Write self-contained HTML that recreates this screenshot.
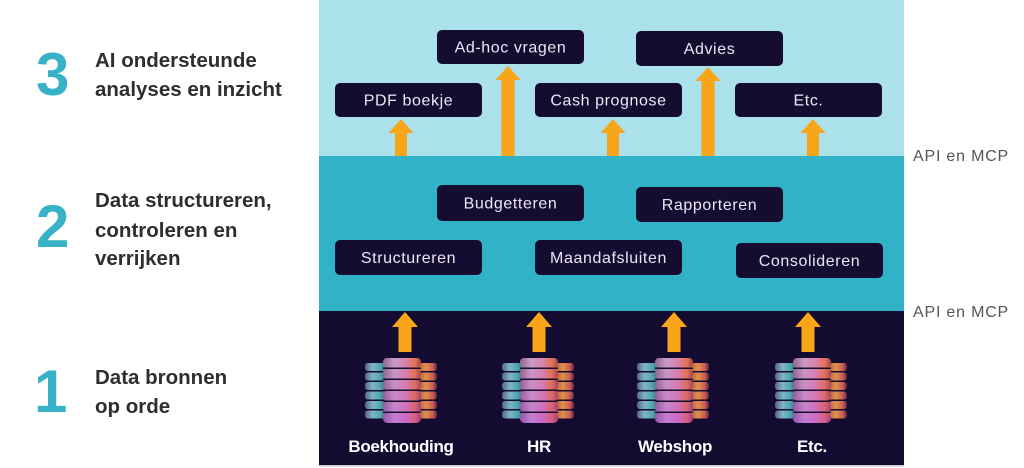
<!DOCTYPE html>
<html>
<head>
<meta charset="utf-8">
<style>
html,body{margin:0;padding:0;background:#fff;}
svg{display:block;}
</style>
</head>
<body>
<svg width="1024" height="468" viewBox="0 0 1024 468" xmlns="http://www.w3.org/2000/svg">
<defs>
  <linearGradient id="gl" x1="0" y1="0" x2="1" y2="0">
    <stop offset="0" stop-color="#5a6488"/>
    <stop offset="0.35" stop-color="#7fb4c4"/>
    <stop offset="0.7" stop-color="#4aa8b0"/>
    <stop offset="1" stop-color="#2f5a76"/>
  </linearGradient>
  <linearGradient id="gm" x1="0" y1="0" x2="1" y2="0">
    <stop offset="0" stop-color="#7464a6"/>
    <stop offset="0.3" stop-color="#c2a8e6"/>
    <stop offset="0.6" stop-color="#d688cc"/>
    <stop offset="0.85" stop-color="#e2744c"/>
    <stop offset="1" stop-color="#8a3a5e"/>
  </linearGradient>
  <linearGradient id="gr" x1="0" y1="0" x2="1" y2="0">
    <stop offset="0" stop-color="#a85440"/>
    <stop offset="0.45" stop-color="#e2904a"/>
    <stop offset="0.8" stop-color="#c85a56"/>
    <stop offset="1" stop-color="#5e2a3e"/>
  </linearGradient>
  <linearGradient id="gv" x1="0" y1="0" x2="0" y2="1">
    <stop offset="0" stop-color="#e87040" stop-opacity="0.2"/>
    <stop offset="1" stop-color="#c040c0" stop-opacity="0.45"/>
  </linearGradient>
  <g id="srv">
    <g fill="url(#gl)">
      <rect x="0" y="5" width="22" height="8" rx="3"/>
      <rect x="0" y="14.5" width="22" height="8" rx="3"/>
      <rect x="0" y="24" width="22" height="8" rx="3"/>
      <rect x="0" y="33.5" width="22" height="8" rx="3"/>
      <rect x="0" y="43" width="22" height="8" rx="3"/>
      <rect x="0" y="52.5" width="22" height="8" rx="3"/>
    </g>
    <g fill="url(#gr)">
      <rect x="52" y="5" width="20" height="8" rx="3"/>
      <rect x="52" y="14.5" width="20" height="8" rx="3"/>
      <rect x="52" y="24" width="20" height="8" rx="3"/>
      <rect x="52" y="33.5" width="20" height="8" rx="3"/>
      <rect x="52" y="43" width="20" height="8" rx="3"/>
      <rect x="52" y="52.5" width="20" height="8" rx="3"/>
    </g>
    <g fill="url(#gm)">
      <rect x="18" y="0" width="38" height="9.5" rx="4"/>
      <rect x="18" y="11" width="38" height="9.5" rx="4"/>
      <rect x="18" y="22" width="38" height="9.5" rx="4"/>
      <rect x="18" y="33" width="38" height="9.5" rx="4"/>
      <rect x="18" y="44" width="38" height="9.5" rx="4"/>
      <rect x="18" y="55" width="38" height="10" rx="5"/>
    </g>
    <rect x="18" y="0" width="38" height="65" rx="4" fill="url(#gv)"/>
    <g fill="#140c30" opacity="0.9">
      <rect x="18" y="9.5" width="38" height="1.5"/>
      <rect x="18" y="20.5" width="38" height="1.5"/>
      <rect x="18" y="31.5" width="38" height="1.5"/>
      <rect x="18" y="42.5" width="38" height="1.5"/>
      <rect x="18" y="53.5" width="38" height="1.5"/>
    </g>
  </g>
</defs>

<!-- bands -->
<rect x="319" y="0" width="585" height="156" fill="#abe1ea"/>
<rect x="319" y="156" width="585" height="155" fill="#31b2c7"/>
<rect x="319" y="311" width="585" height="154" fill="#130b30"/>
<rect x="319" y="465" width="585" height="1.5" fill="#c8c8d0"/>

<!-- left labels -->
<g font-family="'Liberation Sans', sans-serif" font-weight="bold">
  <text x="36" y="95" font-size="60" fill="#38b2c7">3</text>
  <text x="36" y="247" font-size="60" fill="#38b2c7">2</text>
  <text x="34" y="412" font-size="60" fill="#38b2c7">1</text>
  <g font-size="20.5" fill="#2e2e2e">
    <text x="95" y="67">AI ondersteunde</text>
    <text x="95" y="96">analyses en inzicht</text>
    <text x="95" y="207">Data structureren,</text>
    <text x="95" y="237">controleren en</text>
    <text x="95" y="265">verrijken</text>
    <text x="95" y="384">Data bronnen</text>
    <text x="95" y="413">op orde</text>
  </g>
</g>

<!-- API labels -->
<g font-family="'Liberation Sans', sans-serif" font-size="16" fill="#555" letter-spacing="0.8">
  <text x="913" y="161">API en MCP</text>
  <text x="913" y="317">API en MCP</text>
</g>

<!-- arrows -->
<g fill="#f9a51a">
  <polygon points="401,119 413.5,133 407,133 407,156 395,156 395,133 388.5,133"/>
  <polygon points="613,119 625.5,133 619,133 619,156 607,156 607,133 600.5,133"/>
  <polygon points="813,119 825.5,133 819,133 819,156 807,156 807,133 800.5,133"/>
  <polygon points="508,66 520.5,80 514.5,80 514.5,156 501.5,156 501.5,80 495.5,80"/>
  <polygon points="708,67 720.5,81 714.5,81 714.5,156 701.5,156 701.5,81 695.5,81"/>
  <polygon points="405,312 418,327 411.5,327 411.5,352 398.5,352 398.5,327 392,327"/>
  <polygon points="539,312 552,327 545.5,327 545.5,352 532.5,352 532.5,327 526,327"/>
  <polygon points="674,312 687,327 680.5,327 680.5,352 667.5,352 667.5,327 661,327"/>
  <polygon points="808,312 821,327 814.5,327 814.5,352 801.5,352 801.5,327 795,327"/>
</g>

<!-- boxes -->
<g fill="#140d2f">
  <rect x="437" y="30" width="147" height="34" rx="5"/>
  <rect x="636" y="31" width="147" height="35" rx="5"/>
  <rect x="335" y="83" width="147" height="34" rx="5"/>
  <rect x="535" y="83" width="147" height="34" rx="5"/>
  <rect x="735" y="83" width="147" height="34" rx="5"/>
  <rect x="437" y="185" width="147" height="36" rx="5"/>
  <rect x="636" y="187" width="147" height="35" rx="5"/>
  <rect x="335" y="240" width="147" height="35" rx="5"/>
  <rect x="535" y="240" width="147" height="35" rx="5"/>
  <rect x="736" y="243" width="147" height="35" rx="5"/>
</g>
<g font-family="'Liberation Sans', sans-serif" font-size="16" fill="#ece6f5" text-anchor="middle" letter-spacing="0.6">
  <text x="510.5" y="52.5">Ad-hoc vragen</text>
  <text x="709.5" y="54">Advies</text>
  <text x="408.5" y="105.5">PDF boekje</text>
  <text x="608.5" y="105.5">Cash prognose</text>
  <text x="808.5" y="105.5">Etc.</text>
  <text x="510.5" y="208.5">Budgetteren</text>
  <text x="709.5" y="210">Rapporteren</text>
  <text x="408.5" y="263">Structureren</text>
  <text x="608.5" y="263">Maandafsluiten</text>
  <text x="809.5" y="266">Consolideren</text>
</g>

<!-- servers -->
<use href="#srv" x="365" y="358"/>
<use href="#srv" x="502" y="358"/>
<use href="#srv" x="637" y="358"/>
<use href="#srv" x="775" y="358"/>

<g font-family="'Liberation Sans', sans-serif" font-size="17" font-weight="bold" fill="#ffffff" text-anchor="middle" letter-spacing="-0.3">
  <text x="401" y="452">Boekhouding</text>
  <text x="539" y="452">HR</text>
  <text x="675" y="452">Webshop</text>
  <text x="812" y="452">Etc.</text>
</g>
</svg>
</body>
</html>
